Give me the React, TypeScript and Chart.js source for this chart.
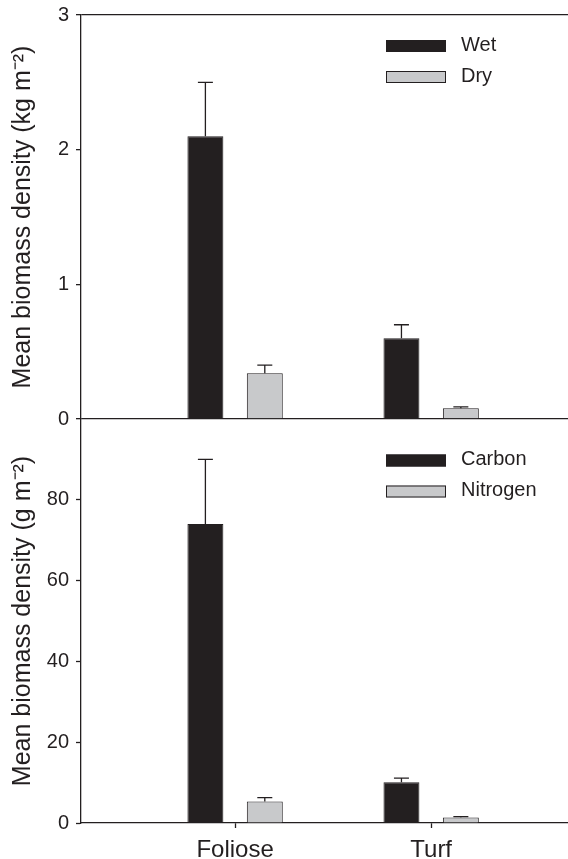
import React, { useEffect, useRef } from 'react';
import { Chart, registerables } from 'chart.js';

Chart.register(...registerables);

// ---- data ----
const categories = ['Foliose', 'Turf'];
const categoryPositions = [1, 2];

const wetValues = [2.1, 0.6];
const wetErrors = [0.4, 0.1];
const dryValues = [0.34, 0.08];
const dryErrors = [0.06, 0.01];

const carbonValues = [74, 10.1];
const carbonErrors = [16, 1.0];
const nitrogenValues = [5.3, 1.35];
const nitrogenErrors = [1.0, 0.25];

const topTicks = [0, 1, 2, 3];
const bottomTicks = [0, 20, 40, 60, 80];

const topTitle = 'Mean biomass density (kg m\u207B\u00B2)';
const bottomTitle = 'Mean biomass density (g m\u207B\u00B2)';

// ---- styles ----
const DARK = '#231f20';
const GRAY = '#c8c9cb';
const FONT = '"Liberation Sans", Arial, Helvetica, sans-serif';

const makeDataset = (
  label: string,
  values: number[],
  errors: number[],
  color: string,
  axis: string,
  stack: string
) => ({
  label,
  data: values.map((v, i) => ({ x: categoryPositions[i], y: v })),
  errors,
  backgroundColor: color,
  borderColor: DARK,
  borderWidth: 1,
  yAxisID: axis,
  stack,
  categoryPercentage: 0.606,
  barPercentage: 0.605,
});

const errorBarPlugin = {
  id: 'errorBars',
  afterDatasetsDraw(chart: any) {
    const ctx = chart.ctx;
    chart.data.datasets.forEach((ds: any, di: number) => {
      const meta = chart.getDatasetMeta(di);
      const yScale = chart.scales[ds.yAxisID];
      meta.data.forEach((bar: any, i: number) => {
        const v = ds.data[i].y;
        const e = ds.errors[i];
        const yEnd = yScale.getPixelForValue(v + e);
        ctx.save();
        ctx.strokeStyle = DARK;
        ctx.lineWidth = 1.3;
        ctx.beginPath();
        ctx.moveTo(bar.x, bar.y);
        ctx.lineTo(bar.x, yEnd);
        ctx.moveTo(bar.x - 7.5, yEnd);
        ctx.lineTo(bar.x + 7.5, yEnd);
        ctx.stroke();
        ctx.restore();
      });
    });
  },
};

const legendPlugin = {
  id: 'panelLegends',
  afterDraw(chart: any) {
    const ctx = chart.ctx;
    const ds = chart.data.datasets;
    const groups = [
      { scale: chart.scales.yTop, items: [ds[0], ds[1]], first: 31 },
      { scale: chart.scales.yBot, items: [ds[2], ds[3]], first: 41.5 },
    ];
    const boxLeft = 386;
    const boxW = 60;
    const boxH = 12;
    const rowGap = 31;
    groups.forEach((g) => {
      g.items.forEach((item: any, k: number) => {
        const cy = g.scale.top + g.first + k * rowGap;
        ctx.save();
        ctx.fillStyle = item.backgroundColor;
        ctx.fillRect(boxLeft, cy - boxH / 2, boxW, boxH);
        ctx.strokeStyle = DARK;
        ctx.lineWidth = 1;
        ctx.strokeRect(boxLeft + 0.5, cy - boxH / 2 + 0.5, boxW - 1, boxH - 1);
        ctx.fillStyle = DARK;
        ctx.font = `20px ${FONT}`;
        ctx.textBaseline = 'middle';
        ctx.textAlign = 'left';
        ctx.fillText(item.label, boxLeft + 75, cy - 1);
        ctx.restore();
      });
    });
  },
};

const zeroPad = (s: any) => {
  s.paddingTop = 0;
  s.paddingBottom = 0;
  s.paddingLeft = 0;
  s.paddingRight = 0;
};

export default function App() {
  const ref = useRef<HTMLCanvasElement | null>(null);

  useEffect(() => {
    if (!ref.current) return;
    const chart = new Chart(ref.current, {
      type: 'bar',
      data: {
        datasets: [
          makeDataset('Wet', wetValues, wetErrors, DARK, 'yTop', 'a'),
          makeDataset('Dry', dryValues, dryErrors, GRAY, 'yTop', 'b'),
          makeDataset('Carbon', carbonValues, carbonErrors, DARK, 'yBot', 'a'),
          makeDataset('Nitrogen', nitrogenValues, nitrogenErrors, GRAY, 'yBot', 'b'),
        ] as any,
      },
      options: {
        animation: false,
        responsive: false,
        devicePixelRatio: 1,
        layout: { padding: { top: 15, left: 0, right: 0, bottom: 0 } },
        plugins: {
          legend: { display: false },
          tooltip: { enabled: false },
        },
        scales: {
          x: {
            type: 'linear',
            offset: false,
            min: 0.214,
            max: 2.698,
            afterBuildTicks: (s: any) => {
              s.ticks = categoryPositions.map((v) => ({ value: v }));
            },
            ticks: {
              callback: (_v: any, i: number) => categories[i],
              color: DARK,
              font: { size: 24, family: FONT },
              padding: 8,
              autoSkip: false,
              maxRotation: 0,
            },
            grid: {
              offset: false,
              drawOnChartArea: false,
              drawTicks: true,
              tickLength: 5,
              tickColor: DARK,
              tickWidth: 1.3,
            },
            border: { color: DARK, width: 1.3 },
            afterFit: (s: any) => {
              s.height = 36;
              zeroPad(s);
            },
          },
          yBot: {
            type: 'linear',
            position: 'left',
            stack: 'panels',
            stackWeight: 1,
            stacked: false,
            min: 0,
            max: 100,
            afterBuildTicks: (s: any) => {
              s.ticks = bottomTicks.map((v) => ({ value: v }));
            },
            ticks: { color: DARK, font: { size: 20, family: FONT }, padding: 7 },
            grid: {
              color: 'rgba(0,0,0,0)',
              tickColor: DARK,
              tickLength: 5,
              tickWidth: 1.3,
            },
            border: { color: DARK, width: 1.3 },
            title: {
              display: true,
              text: bottomTitle,
              color: DARK,
              font: { size: 25, family: FONT },
              padding: { top: 8, bottom: 0 },
            },
            afterFit: (s: any) => {
              s.width = 81;
              zeroPad(s);
            },
          },
          yTop: {
            type: 'linear',
            position: 'left',
            stack: 'panels',
            stackWeight: 1,
            stacked: false,
            min: 0,
            max: 3,
            afterBuildTicks: (s: any) => {
              s.ticks = topTicks.map((v) => ({ value: v }));
            },
            ticks: { color: DARK, font: { size: 20, family: FONT }, padding: 7 },
            grid: {
              color: (c: any) =>
                c.tick && (c.tick.value === 0 || c.tick.value === 3) ? DARK : 'rgba(0,0,0,0)',
              lineWidth: 1.3,
              tickColor: DARK,
              tickLength: 5,
              tickWidth: 1.3,
            },
            border: { color: DARK, width: 1.3 },
            title: {
              display: true,
              text: topTitle,
              color: DARK,
              font: { size: 25, family: FONT },
              padding: { top: 8, bottom: 0 },
            },
            afterFit: (s: any) => {
              s.width = 81;
              zeroPad(s);
            },
          },
        } as any,
      },
      plugins: [errorBarPlugin, legendPlugin],
    });
    return () => chart.destroy();
  }, []);

  return (
    <div style={{ position: 'absolute', left: 0, top: 0, width: 568, height: 859, background: '#fff' }}>
      <canvas ref={ref} width={568} height={859} style={{ width: 568, height: 859, display: 'block' }} />
    </div>
  );
}
